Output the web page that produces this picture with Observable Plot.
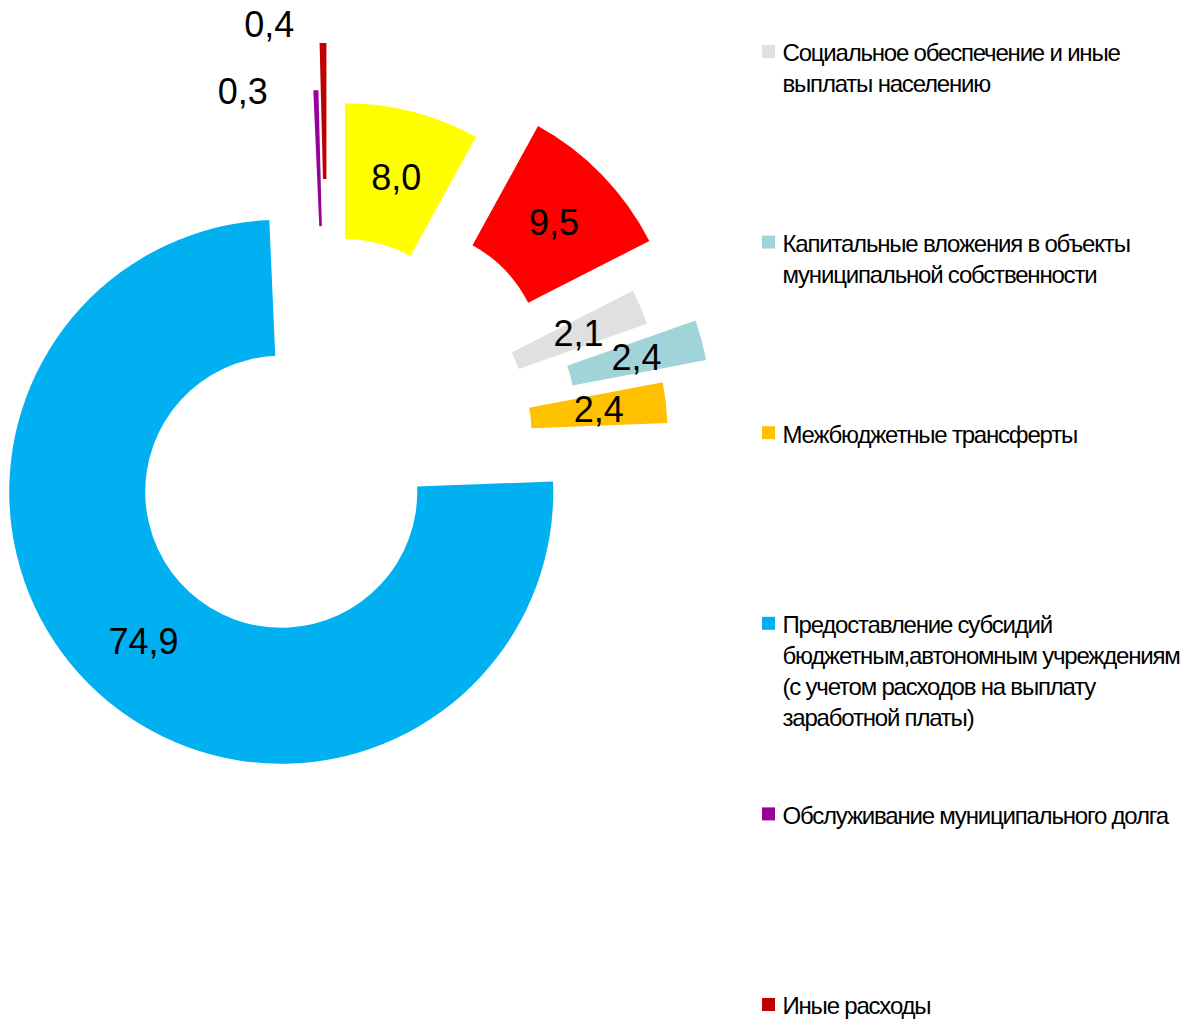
<!DOCTYPE html>
<html>
<head>
<meta charset="utf-8">
<script src="https://cdn.jsdelivr.net/npm/d3@7"></script>
<script src="https://cdn.jsdelivr.net/npm/@observablehq/plot@0.6"></script>
<style>
  html, body { margin: 0; padding: 0; background: #fff; }
  #chart svg { display: block; }
</style>
</head>
<body>
<div id="chart"></div>
<script>
// ---- Data (slice order clockwise from 12 o'clock) ----
// The first two categories are not visible in the (cropped) legend of the reference.
const categories = [
  null,
  null,
  "Социальное обеспечение и иные\nвыплаты населению",
  "Капитальные вложения в объекты\nмуниципальной собственности",
  "Межбюджетные трансферты",
  "Предоставление субсидий\nбюджетным,автономным учреждениям\n(с учетом расходов на выплату\nзаработной платы)",
  "Обслуживание муниципального долга",
  "Иные расходы"
];
const values = [8.0, 9.5, 2.1, 2.4, 2.4, 74.9, 0.3, 0.4];
const colors = ["#FFFF00", "#FF0000", "#E0E0E0", "#A0D4D8", "#FFC000", "#00B0F0", "#990099", "#C00000"];

// ---- Styles / layout ----
const explode = [68, 110, 68, 115, 68, 69, 79, 126];          // slice explosion (px)
const labelShift = [[0,0],[0,0],[0,0],[0,0],[0,0],[0,0],[-76,-66],[-55,-86]];
const W = 1200, H = 1019;
const center = [328, 441];
const innerR = 136, outerR = 272;
const legendX = 762, legendTextX = 782, legendTop = 45, legendStep = 190.6, swatch = 13;

const fmt = v => v.toFixed(1).replace(".", ",");

// pie layout
const pie = d3.pie().sort(null).value(d => d.value).startAngle(0).endAngle(2 * Math.PI);
const rows = values.map((v, i) => ({i, value: v, color: colors[i], name: categories[i]}));
const arcs = pie(rows).map(a => {
  const mid = (a.startAngle + a.endAngle) / 2;
  const e = explode[a.data.i];
  const cx = center[0] + e * Math.sin(mid);
  const cy = center[1] - e * Math.cos(mid);
  const arcGen = d3.arc().innerRadius(innerR).outerRadius(outerR);
  const [lx, ly] = arcGen.centroid(a);
  return {
    ...a, cx, cy,
    path: arcGen(a),
    lx: cx + lx + labelShift[a.data.i][0],
    ly: cy + ly + labelShift[a.data.i][1],
    label: fmt(a.data.value)
  };
});

const legendRows = rows.filter(r => r.name).map((r, k) => ({...r, k}));

const slicesMark = (index, scales) => {
  const g = d3.create("svg:g");
  const sx = scales && scales.x ? scales.x : (v => v);
  const sy = scales && scales.y ? scales.y : (v => v);
  g.selectAll("path")
    .data(arcs)
    .join("path")
    .attr("transform", d => `translate(${sx(d.cx)},${sy(d.cy)})`)
    .attr("d", d => d.path)
    .attr("fill", d => d.data.color);
  return g.node();
};

const chart = Plot.plot({
  width: W,
  height: H,
  margin: 0,
  x: {domain: [0, W], range: [0, W], axis: null},
  y: {domain: [0, H], range: [0, H], axis: null},
  style: {fontFamily: "'Liberation Sans', Arial, sans-serif", background: "#fff"},
  marks: [
    slicesMark,
    Plot.text(arcs, {
      x: "lx", y: "ly", text: "label",
      fontSize: 36, fill: "#000", textAnchor: "middle", lineAnchor: "middle"
    }),
    Plot.rect(legendRows, {
      x1: () => legendX, x2: () => legendX + swatch,
      y1: d => legendTop + d.k * legendStep,
      y2: d => legendTop + d.k * legendStep + swatch,
      fill: "color"
    }),
    Plot.text(legendRows, {
      x: () => legendTextX,
      y: d => legendTop - 6 + d.k * legendStep,
      text: "name",
      textAnchor: "start", lineAnchor: "top",
      fontSize: 24, lineHeight: 1.29, fill: "#000"
    })
  ]
});

// condensed tracking for legend texts (as in the reference)
d3.select(chart).selectAll("text").filter(function() {
  return this.textContent.length > 5;
}).style("letter-spacing", "-1.2px");

document.getElementById("chart").appendChild(chart);
</script>
</body>
</html>
